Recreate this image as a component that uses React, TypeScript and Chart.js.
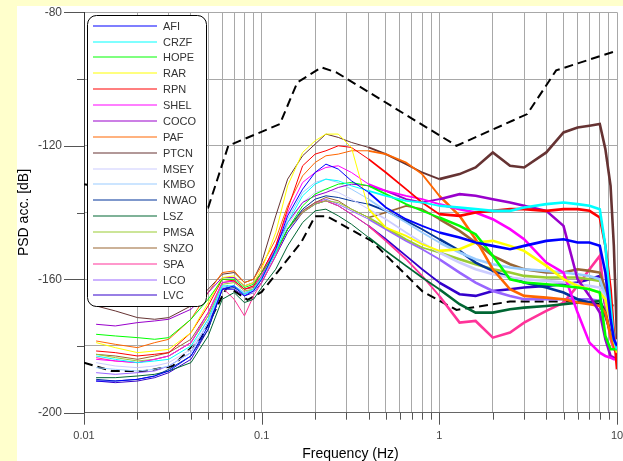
import React, { useEffect, useRef } from 'react';
import { Chart, registerables } from 'chart.js';

Chart.register(...registerables);

// Frequency grid (Hz) shared by the station curves
const freq = [0.0117, 0.015, 0.02, 0.025, 0.03, 0.04, 0.05, 0.06, 0.07, 0.08, 0.09, 0.1, 0.12, 0.14, 0.17, 0.2, 0.23, 0.27, 0.32, 0.4, 0.5, 0.65, 0.8, 1.0, 1.3, 1.6, 2.0, 2.5, 3.0, 4.0, 5.0, 6.0, 7.0, 8.0, 8.6, 9.2, 9.6, 10];

const stations = ['AFI', 'CRZF', 'HOPE', 'RAR', 'RPN', 'SHEL', 'COCO', 'PAF', 'PTCN', 'MSEY', 'KMBO', 'NWAO', 'LSZ', 'PMSA', 'SNZO', 'SPA', 'LCO', 'LVC'];
const stationColors = ['#0000FF', '#00FFFF', '#00FF00', '#FFFF00', '#FF0000', '#FF00FF', '#9900CC', '#FF6600', '#663333', '#CCCCFF', '#99CCFF', '#003399', '#006633', '#99CC33', '#996633', '#FF3399', '#9966FF', '#3300CC'];

const AFI = [-190.5, -190.5, -190, -189, -187.5, -183, -174, -163, -162, -165, -163.5, -160, -151, -141, -133, -128, -125.5, -127, -130.5, -134, -138.5, -142, -144, -146, -147.5, -149, -150, -151, -150, -148.5, -148, -149, -149, -150, -158, -172, -178, -180];
const CRZF = [-183, -184, -185, -184.5, -184, -180, -172, -162, -162, -164.5, -163, -159.5, -152, -143, -135, -131.5, -130, -130.5, -132, -133.5, -135, -136.5, -137, -138, -138.5, -139, -139.5, -139.5, -138.5, -137.5, -137, -137.5, -138, -139, -150, -168, -178, -181];
const HOPE = [-176.5, -177, -177.5, -178, -177.5, -172, -166, -160, -160, -162.5, -161.5, -158, -152, -145, -138, -134.5, -133, -131.5, -131, -132, -134.5, -137.5, -139.5, -141.5, -144, -146.5, -153, -160, -161, -161.5, -162, -162.5, -163, -164, -177, -181, -181, -181];
const RAR = [-179, -180.5, -182, -181.5, -181, -176, -167, -159.5, -159, -162, -161, -157, -146, -132, -122, -118.5, -116.5, -116.5, -120.5, -139, -144.5, -147, -149.5, -151.5, -151, -149, -148.5, -150, -151.5, -156, -160, -162, -163, -164, -166, -172, -178, -182];
const RPN = [-181.5, -182, -183, -182.5, -182, -176, -168, -160, -160.5, -163, -162, -158, -150, -139, -126, -122.5, -121.5, -120, -120.5, -124, -128, -133, -137, -140.5, -141, -140, -139.5, -139, -139, -139.5, -139, -139, -139.5, -141.5, -150, -163, -176, -187];
const SHEL = [-184, -184.5, -185, -184, -183, -179, -170, -161, -160.5, -163, -162, -159, -150, -140, -131, -128, -126.5, -126, -128, -131.5, -133.5, -135, -136, -137.5, -139, -140, -142, -145, -148, -155, -158, -170, -179, -182, -183, -183.5, -184, -184];
const COCO = [-173.5, -174, -173, -172.5, -172, -169, -164, -159.5, -159.5, -162, -161, -158, -150, -143, -137, -135, -134, -132.5, -131.5, -132, -133.5, -136, -137, -136, -134.5, -135, -136, -137, -138, -139.5, -144, -160, -165, -170, -178, -183, -183.5, -184];
const PAF = [-178.5, -179.5, -180.5, -179, -178, -172, -164, -158, -157.5, -161, -160, -156, -148, -138, -129, -125, -123, -122.5, -121.5, -121.5, -122.5, -125, -128.5, -135, -141, -148, -157, -163, -165, -165.5, -166, -167, -167.5, -168, -170, -177, -180, -182];
const PTCN = [-168, -169.5, -171.5, -172, -171.5, -168, -163, -158.5, -158, -161, -160, -155, -141, -130, -123, -119.5, -116.5, -117.5, -119, -120.5, -122.5, -125.5, -128, -130, -128.5, -126.5, -122, -126, -126.5, -122, -116, -114.5, -114, -113.5, -121, -132, -150, -178];
const MSEY = [-185, -186, -186.5, -186, -185, -181, -172, -162, -162, -164.5, -164, -160, -152, -144, -137, -134, -133, -134, -136, -139, -142, -146, -149, -152, -155, -157, -158.5, -159.5, -160, -160.5, -161, -161.5, -162, -162.5, -166, -173, -177, -179];
const KMBO = [-186.5, -187, -187.5, -187, -186, -182, -173, -162.5, -162, -164, -163.5, -160, -151, -142, -134, -131, -130, -131, -133, -136, -139.5, -143, -146, -149, -152, -154, -155.5, -156.5, -157, -157.5, -158, -158.5, -159, -160, -165, -172, -176, -178];
const NWAO = [-190, -190.5, -190, -189, -187, -183, -175, -163, -162.5, -164.5, -163.5, -160, -152, -145, -139, -136, -135, -135.5, -136.5, -137.5, -139.5, -142.5, -145, -148, -151.5, -155, -157.5, -159.5, -161, -162.5, -164, -166, -167, -168, -171, -176, -179, -180];
const LSZ = [-189.5, -189.5, -189, -188.5, -187.5, -185, -177, -166, -164, -167, -166, -162.5, -157, -150, -143, -139.5, -139, -141, -143.5, -147.5, -151.5, -156, -159.5, -163, -167.5, -170, -170, -169, -168.5, -168, -167.5, -167, -167, -166.5, -170, -176, -179, -180];
const PMSA = [-182.5, -183.5, -184.5, -184, -183, -179, -171, -161.5, -161, -163.5, -163, -159.5, -152, -145, -140, -137.5, -136.5, -137, -139, -141.5, -144.5, -148, -150.5, -152, -154, -155.5, -157, -158, -159, -159.5, -159.5, -159.5, -160, -160.5, -165, -174, -178, -180];
const SNZO = [-182.5, -183, -184, -183, -182, -178, -170, -161, -160.5, -163, -162.5, -159, -151, -145, -139.5, -137, -135.5, -136.5, -139, -141.5, -140, -138, -139, -142, -145.5, -149, -153, -155.5, -157, -158, -158, -157, -157.5, -158, -163, -172, -178, -181];
const SPA = [-183.5, -184.5, -185, -184, -183, -179, -171, -162.5, -166, -171, -165, -161, -153, -145, -140, -137, -136.5, -138, -140.5, -144, -148.5, -154, -159, -165, -173, -172.5, -177.5, -176, -173, -169.5, -167, -162, -157, -153, -168, -178, -181, -182];
const LCO = [-188, -188.5, -188, -187.5, -186, -182, -173, -162.5, -162, -164, -163, -160, -152, -145, -139.5, -137, -136, -137.5, -139.5, -142, -145, -148.5, -151, -154, -158, -161, -163.5, -165, -166, -166, -166, -166, -166, -166.5, -170, -176, -178, -179];
const LVC = [-190.5, -191, -190.5, -189.5, -188, -184, -175, -163, -163, -165, -164, -161, -153, -146, -140, -137.5, -136.5, -138, -140.5, -144, -148, -153, -157, -161, -164.5, -165, -163.5, -163, -162.5, -162, -161.5, -161, -160, -159, -168, -177, -180, -181];

const stationValues = [AFI, CRZF, HOPE, RAR, RPN, SHEL, COCO, PAF, PTCN, MSEY, KMBO, NWAO, LSZ, PMSA, SNZO, SPA, LCO, LVC];

// Noise models (dashed)
const nhnmFreq = [0.01, 0.05, 0.0649, 0.1266, 0.1587, 0.2174, 0.2632, 1.25, 3.125, 4.545, 10];
const nhnmDb = [-131.5, -138.5, -120, -113.5, -101, -96.5, -98, -120, -110.5, -97.4, -91.5];
const nlnmFreq = [0.01, 0.0143, 0.0222, 0.0316, 0.0457, 0.0641, 0.0833, 0.1, 0.1667, 0.2, 0.2326, 0.4167, 0.8065, 1.25, 2.5, 5.882, 10];
const nlnmDb = [-185, -187.5, -187.5, -186, -177.5, -162.1, -166.2, -163.8, -149, -141.1, -141.1, -148.6, -163.7, -169.2, -166.7, -166.7, -168];

// Axis ticks
const xMajorTicks = [0.01, 0.1, 1, 10];
const xMajorLabels = ['0.01', '0.1', '1', '10'];
const xMinorMultipliers = [1, 2, 3, 4, 5, 6, 7, 8, 9];
const yMin = -200;
const yMax = -80;
const yStep = 20;
const yLabelStep = 40;

const FONT = "'Liberation Sans', Arial, sans-serif";

const isMajorX = (v: number) => xMajorTicks.some((m) => Math.abs(m - v) / m < 1e-6);

export default function App() {
  const canvasRef = useRef<HTMLCanvasElement | null>(null);

  useEffect(() => {
    document.body.style.margin = '0';
    document.body.style.background = '#FFFFCC';
    const canvas = canvasRef.current;
    if (!canvas) return;

    const stationSets = stations.map((name, i) => ({
      label: name,
      data: freq.map((f, j) => ({ x: f, y: stationValues[i][j] })),
      borderColor: stationColors[i],
      backgroundColor: stationColors[i],
      borderWidth: 1,
      pointRadius: 0,
      tension: 0,
      fill: false,
      segment: {
        borderWidth: (c: any) => {
          const f = c.p0.parsed.x;
          return f >= 1 ? 2.6 : f >= 0.35 ? 1.8 : 1;
        },
      },
    }));

    const modelSets = [
      { label: 'NHNM', data: nhnmFreq.map((f, j) => ({ x: f, y: nhnmDb[j] })) },
      { label: 'NLNM', data: nlnmFreq.map((f, j) => ({ x: f, y: nlnmDb[j] })) },
    ].map((d) => ({
      ...d,
      borderColor: '#000',
      backgroundColor: '#000',
      borderWidth: 2,
      borderDash: [9, 5],
      pointRadius: 0,
      tension: 0,
      fill: false,
    }));

    const xTickValues: number[] = [];
    xMajorTicks.slice(0, 3).forEach((d) => xMinorMultipliers.forEach((m) => xTickValues.push(+(d * m).toPrecision(6))));
    xTickValues.push(xMajorTicks[3]);

    const backgroundPlugin = {
      id: 'whitePanel',
      beforeDraw(chart: any) {
        const ctx = chart.ctx;
        ctx.save();
        ctx.fillStyle = '#FFFFFF';
        ctx.fillRect(17, 6, chart.width - 17, chart.height - 6);
        ctx.restore();
      },
    };

    const tickPlugin = {
      id: 'tickMarks',
      afterDraw(chart: any) {
        const { ctx, chartArea } = chart;
        const xs = chart.scales.x;
        const ys = chart.scales.y;
        ctx.save();
        ctx.strokeStyle = '#555';
        ctx.lineWidth = 1;
        xs.ticks.forEach((t: any) => {
          const px = Math.round(xs.getPixelForValue(t.value)) + 0.5;
          const major = isMajorX(t.value);
          ctx.beginPath();
          ctx.moveTo(px, chartArea.bottom);
          ctx.lineTo(px, chartArea.bottom + (major ? 12 : 7));
          ctx.stroke();
        });
        ys.ticks.forEach((t: any) => {
          const py = Math.round(ys.getPixelForValue(t.value)) + 0.5;
          const major = Math.abs(t.value % yLabelStep) < 1e-9;
          ctx.beginPath();
          ctx.moveTo(chartArea.left - (major ? 20 : 7), py);
          ctx.lineTo(chartArea.left, py);
          ctx.stroke();
        });
        ctx.restore();
      },
    };

    const legendPlugin = {
      id: 'boxLegend',
      afterDatasetsDraw(chart: any) {
        const ctx = chart.ctx;
        const x0 = 87.5, y0 = 15.5, w = 119, h = 291, r = 9;
        ctx.save();
        ctx.beginPath();
        ctx.moveTo(x0 + r, y0);
        ctx.lineTo(x0 + w - r, y0);
        ctx.arcTo(x0 + w, y0, x0 + w, y0 + r, r);
        ctx.lineTo(x0 + w, y0 + h - r);
        ctx.arcTo(x0 + w, y0 + h, x0 + w - r, y0 + h, r);
        ctx.lineTo(x0 + r, y0 + h);
        ctx.arcTo(x0, y0 + h, x0, y0 + h - r, r);
        ctx.lineTo(x0, y0 + r);
        ctx.arcTo(x0, y0, x0 + r, y0, r);
        ctx.closePath();
        ctx.fillStyle = '#FFFFFF';
        ctx.fill();
        ctx.strokeStyle = '#000';
        ctx.lineWidth = 1;
        ctx.stroke();
        ctx.font = `11px ${FONT}`;
        ctx.textBaseline = 'middle';
        ctx.textAlign = 'left';
        chart.data.datasets.slice(0, stations.length).forEach((ds: any, i: number) => {
          const yy = Math.round(25.7 + i * 15.87);
          ctx.strokeStyle = ds.borderColor;
          ctx.lineWidth = 1.2;
          ctx.beginPath();
          ctx.moveTo(93, yy);
          ctx.lineTo(157, yy);
          ctx.stroke();
          ctx.fillStyle = '#333';
          ctx.fillText(ds.label, 163, yy + 1);
        });
        ctx.restore();
      },
    };

    const chart = new Chart(canvas, {
      type: 'line',
      data: { datasets: [...stationSets, ...modelSets] as any },
      options: {
        animation: false,
        responsive: false,
        events: [],
        layout: { padding: { top: 12.3, right: 6, left: 0, bottom: 0 } },
        plugins: { legend: { display: false }, tooltip: { enabled: false } },
        scales: {
          x: {
            type: 'logarithmic',
            min: 0.01,
            max: 10,
            afterBuildTicks: (scale: any) => {
              scale.ticks = xTickValues.map((v) => ({ value: v, major: isMajorX(v) }));
            },
            afterFit: (scale: any) => {
              scale.height = 48.3;
              scale.paddingLeft = 0;
              scale.paddingRight = 0;
            },
            grid: { color: '#A8A8A8', lineWidth: 1, drawTicks: false },
            border: { display: true, color: '#666', width: 1 },
            ticks: {
              autoSkip: false,
              maxRotation: 0,
              minRotation: 0,
              padding: 17,
              color: '#444',
              font: { family: FONT, size: 11 },
              callback: (v: any) => {
                const idx = xMajorTicks.findIndex((m) => Math.abs(m - Number(v)) / m < 1e-6);
                return idx >= 0 ? xMajorLabels[idx] : '';
              },
            },
            title: {
              display: true,
              text: 'Frequency (Hz)',
              color: '#000',
              font: { family: FONT, size: 14, lineHeight: 1 },
              padding: { top: 0, bottom: 0 },
            },
          },
          y: {
            type: 'linear',
            min: yMin,
            max: yMax,
            afterFit: (scale: any) => {
              scale.width = 84;
              scale.paddingTop = 0;
              scale.paddingBottom = 0;
            },
            grid: { color: '#A8A8A8', lineWidth: 1, drawTicks: false },
            border: { display: true, color: '#333', width: 1 },
            ticks: {
              stepSize: yStep,
              padding: 22,
              color: '#444',
              font: { family: FONT, size: 12 },
              callback: (v: any) => (Math.abs(Number(v) % yLabelStep) < 1e-9 ? String(v) : ''),
            },
            title: {
              display: true,
              text: 'PSD acc. [dB]',
              color: '#000',
              font: { family: FONT, size: 14, lineHeight: 1.2 },
              padding: { top: 15.6, bottom: 0 },
            },
          },
        },
      },
      plugins: [backgroundPlugin, tickPlugin, legendPlugin],
    });

    return () => chart.destroy();
  }, []);

  return (
    <div style={{ position: 'relative', width: 623, height: 461 }}>
      <canvas ref={canvasRef} width={623} height={461} style={{ display: 'block', width: 623, height: 461 }} />
    </div>
  );
}
